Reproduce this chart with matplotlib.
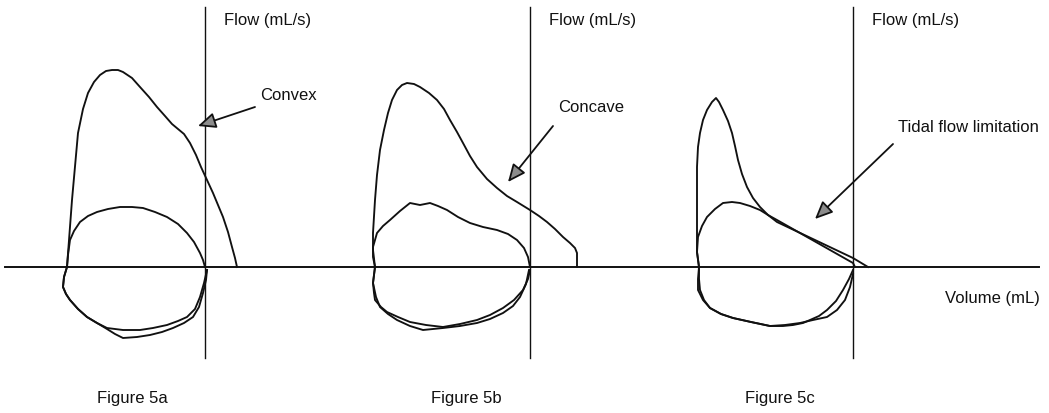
import numpy as np
import matplotlib
matplotlib.use("Agg")
import matplotlib.pyplot as plt

plt.rcParams['font.family'] = ['Liberation Sans', 'DejaVu Sans']

# flow-volume loops, volume relative to the flow axis, flow above the volume axis
# (arbitrary units, one unit ~ one pixel)
exp_a = [(-138, 0), (-133, 67), (-127, 134), (-122, 158), (-117, 174), (-111, 185), (-105, 192),
         (-99, 196), (-93, 197), (-87, 197), (-82, 195), (-73, 189), (-65, 180), (-56, 170),
         (-48, 160), (-40, 151), (-33, 143), (-27, 138), (-21, 133), (-15, 124), (-9, 112),
         (-4, 100), (2, 87), (8, 74), (13, 62), (18, 50), (23, 35), (27, 20), (30, 9), (32, 0)]
tidal_a = [(-138, 0), (-137, 12), (-135, 27), (-131, 36), (-125, 45), (-117, 51), (-108, 55),
           (-97, 58), (-85, 60), (-73, 60), (-62, 59), (-50, 55), (-38, 50), (-27, 43),
           (-18, 34), (-11, 25), (-5, 14), (-2, 7), (0, 0)]
insp_a1 = [(-138, 0), (-141, -10), (-142, -20), (-139, -27), (-135, -33), (-127, -42), (-118, -50),
           (-108, -56), (-98, -61), (-82, -63), (-65, -63), (-52, -61), (-38, -58), (-27, -54),
           (-18, -50), (-10, -42), (-5, -30), (-1, -16), (2, -3)]
insp_a2 = [(-138, 0), (-141, -10), (-142, -20), (-139, -27), (-135, -33), (-127, -42), (-118, -50),
           (-108, -56), (-98, -62), (-90, -67), (-82, -71), (-68, -70), (-55, -68), (-43, -65),
           (-32, -61), (-21, -56), (-12, -50), (-6, -40), (-2, -26), (1, -13), (2, -3)]

exp_b = [(-155, 0), (-157, 17), (-157, 34), (-155, 67), (-153, 92), (-150, 117), (-146, 137),
         (-142, 154), (-138, 167), (-133, 177), (-128, 182), (-123, 184), (-116, 183),
         (-110, 180), (-101, 174), (-93, 167), (-86, 158), (-80, 147), (-73, 135), (-67, 124),
         (-60, 111), (-53, 100), (-43, 88), (-33, 79), (-23, 71), (-13, 65), (0, 57), (9, 51),
         (17, 45), (25, 38), (33, 30), (40, 24), (45, 19), (47, 14), (47, 9), (47, 0)]
tidal_b = [(-155, 0), (-157, 10), (-157, 20), (-153, 34), (-147, 41), (-140, 47), (-130, 56),
           (-120, 64), (-115, 63), (-110, 62), (-100, 64), (-92, 61), (-83, 57), (-72, 50),
           (-60, 44), (-47, 40), (-33, 37), (-22, 33), (-13, 27), (-6, 19), (-2, 10), (0, 0)]
insp_b1 = [(-155, 0), (-157, -16), (-154, -30), (-150, -40), (-142, -47), (-133, -53),
           (-120, -59), (-107, -63), (-97, -62), (-87, -61), (-70, -59), (-53, -56),
           (-40, -52), (-27, -46), (-17, -39), (-10, -30), (-4, -17), (-1, -3)]
insp_b2 = [(-155, 0), (-157, -16), (-156, -26), (-155, -33), (-149, -40), (-143, -45),
           (-132, -50), (-120, -55), (-104, -58), (-87, -60), (-70, -57), (-53, -53),
           (-40, -48), (-27, -41), (-16, -33), (-7, -23), (-2, -12), (0, -3)]

exp_c = [(-154, 0), (-156, 15), (-156, 33), (-156, 67), (-156, 100), (-155, 120), (-153, 134),
         (-150, 147), (-146, 157), (-141, 165), (-137, 169), (-134, 165), (-130, 157),
         (-125, 146), (-121, 134), (-118, 121), (-115, 107), (-111, 93), (-106, 80),
         (-100, 69), (-93, 60), (-85, 52), (-76, 45), (0, 9), (15, 0)]
tidal_c = [(-154, 0), (-156, 15), (-155, 30), (-151, 41), (-146, 50), (-138, 58), (-130, 64),
           (-121, 65), (-113, 64), (-103, 61), (-93, 57), (-85, 52), (-76, 47), (0, 4), (2, 0)]
insp_c1 = [(-154, 0), (-154, -12), (-153, -23), (-149, -33), (-143, -41), (-132, -47),
           (-120, -51), (-102, -55), (-83, -59), (-70, -59), (-60, -58), (-50, -56),
           (-43, -53), (-34, -49), (-26, -43), (-17, -34), (-10, -23), (-4, -12), (0, -3)]
insp_c2 = [(-154, 0), (-155, -12), (-155, -23), (-150, -33), (-143, -41), (-132, -47),
           (-120, -51), (-102, -55), (-83, -59), (-68, -58), (-53, -56), (-40, -53),
           (-26, -50), (-16, -43), (-8, -33), (-3, -20), (0, -7)]

panels = [
    dict(x0=205, loops=[exp_a, tidal_a, insp_a1, insp_a2], note='Convex',
         note_xy=(55, 172), tail=(50, 160), tip=(-7, 141), caption='Figure 5a', cap_x=-73),
    dict(x0=530, loops=[exp_b, tidal_b, insp_b1, insp_b2], note='Concave',
         note_xy=(28, 160), tail=(23, 141), tip=(-22, 85), caption='Figure 5b', cap_x=-64),
    dict(x0=853, loops=[exp_c, tidal_c, insp_c1, insp_c2], note='Tidal flow limitation',
         note_xy=(45, 139), tail=(40, 123), tip=(-38, 48), caption='Figure 5c', cap_x=-73),
]

ink = '#111111'
fig = plt.figure(figsize=(10.49, 4.13), dpi=100)
ax = fig.add_axes([0, 0, 1, 1])
ax.set_xlim(0, 1049)
ax.set_ylim(-146, 267)
ax.axis('off')

# volume axis across all three panels
ax.plot([5, 1039], [0, 0], color=ink, lw=1.4)

for p in panels:
    x0 = p['x0']
    ax.plot([x0, x0], [-91, 260], color=ink, lw=1.0)
    for loop in p['loops']:
        v = np.array(loop, dtype=float)
        ax.plot(x0 + v[:, 0], v[:, 1], color=ink, lw=1.35, solid_joinstyle='round')
    ax.text(x0 + 19, 246, 'Flow (mL/s)', fontsize=12, ha='left', va='center', color=ink)
    ax.text(x0 + p['note_xy'][0], p['note_xy'][1], p['note'], fontsize=12,
            ha='left', va='center', color=ink)
    ax.annotate('', xy=(x0 + p['tip'][0], p['tip'][1]),
                xytext=(x0 + p['tail'][0], p['tail'][1]),
                arrowprops=dict(arrowstyle='-|>,head_length=0.9,head_width=0.4',
                                fc='0.55', ec=ink, lw=1.3, shrinkA=0, shrinkB=0,
                                mutation_scale=12))
    ax.text(x0 + p['cap_x'], -131, p['caption'], fontsize=12, ha='center', va='center',
            color=ink)

ax.text(853 + 92, -32, 'Volume (mL)', fontsize=12, ha='left', va='center', color=ink)

fig.savefig('out.png', dpi=100, facecolor='white')
